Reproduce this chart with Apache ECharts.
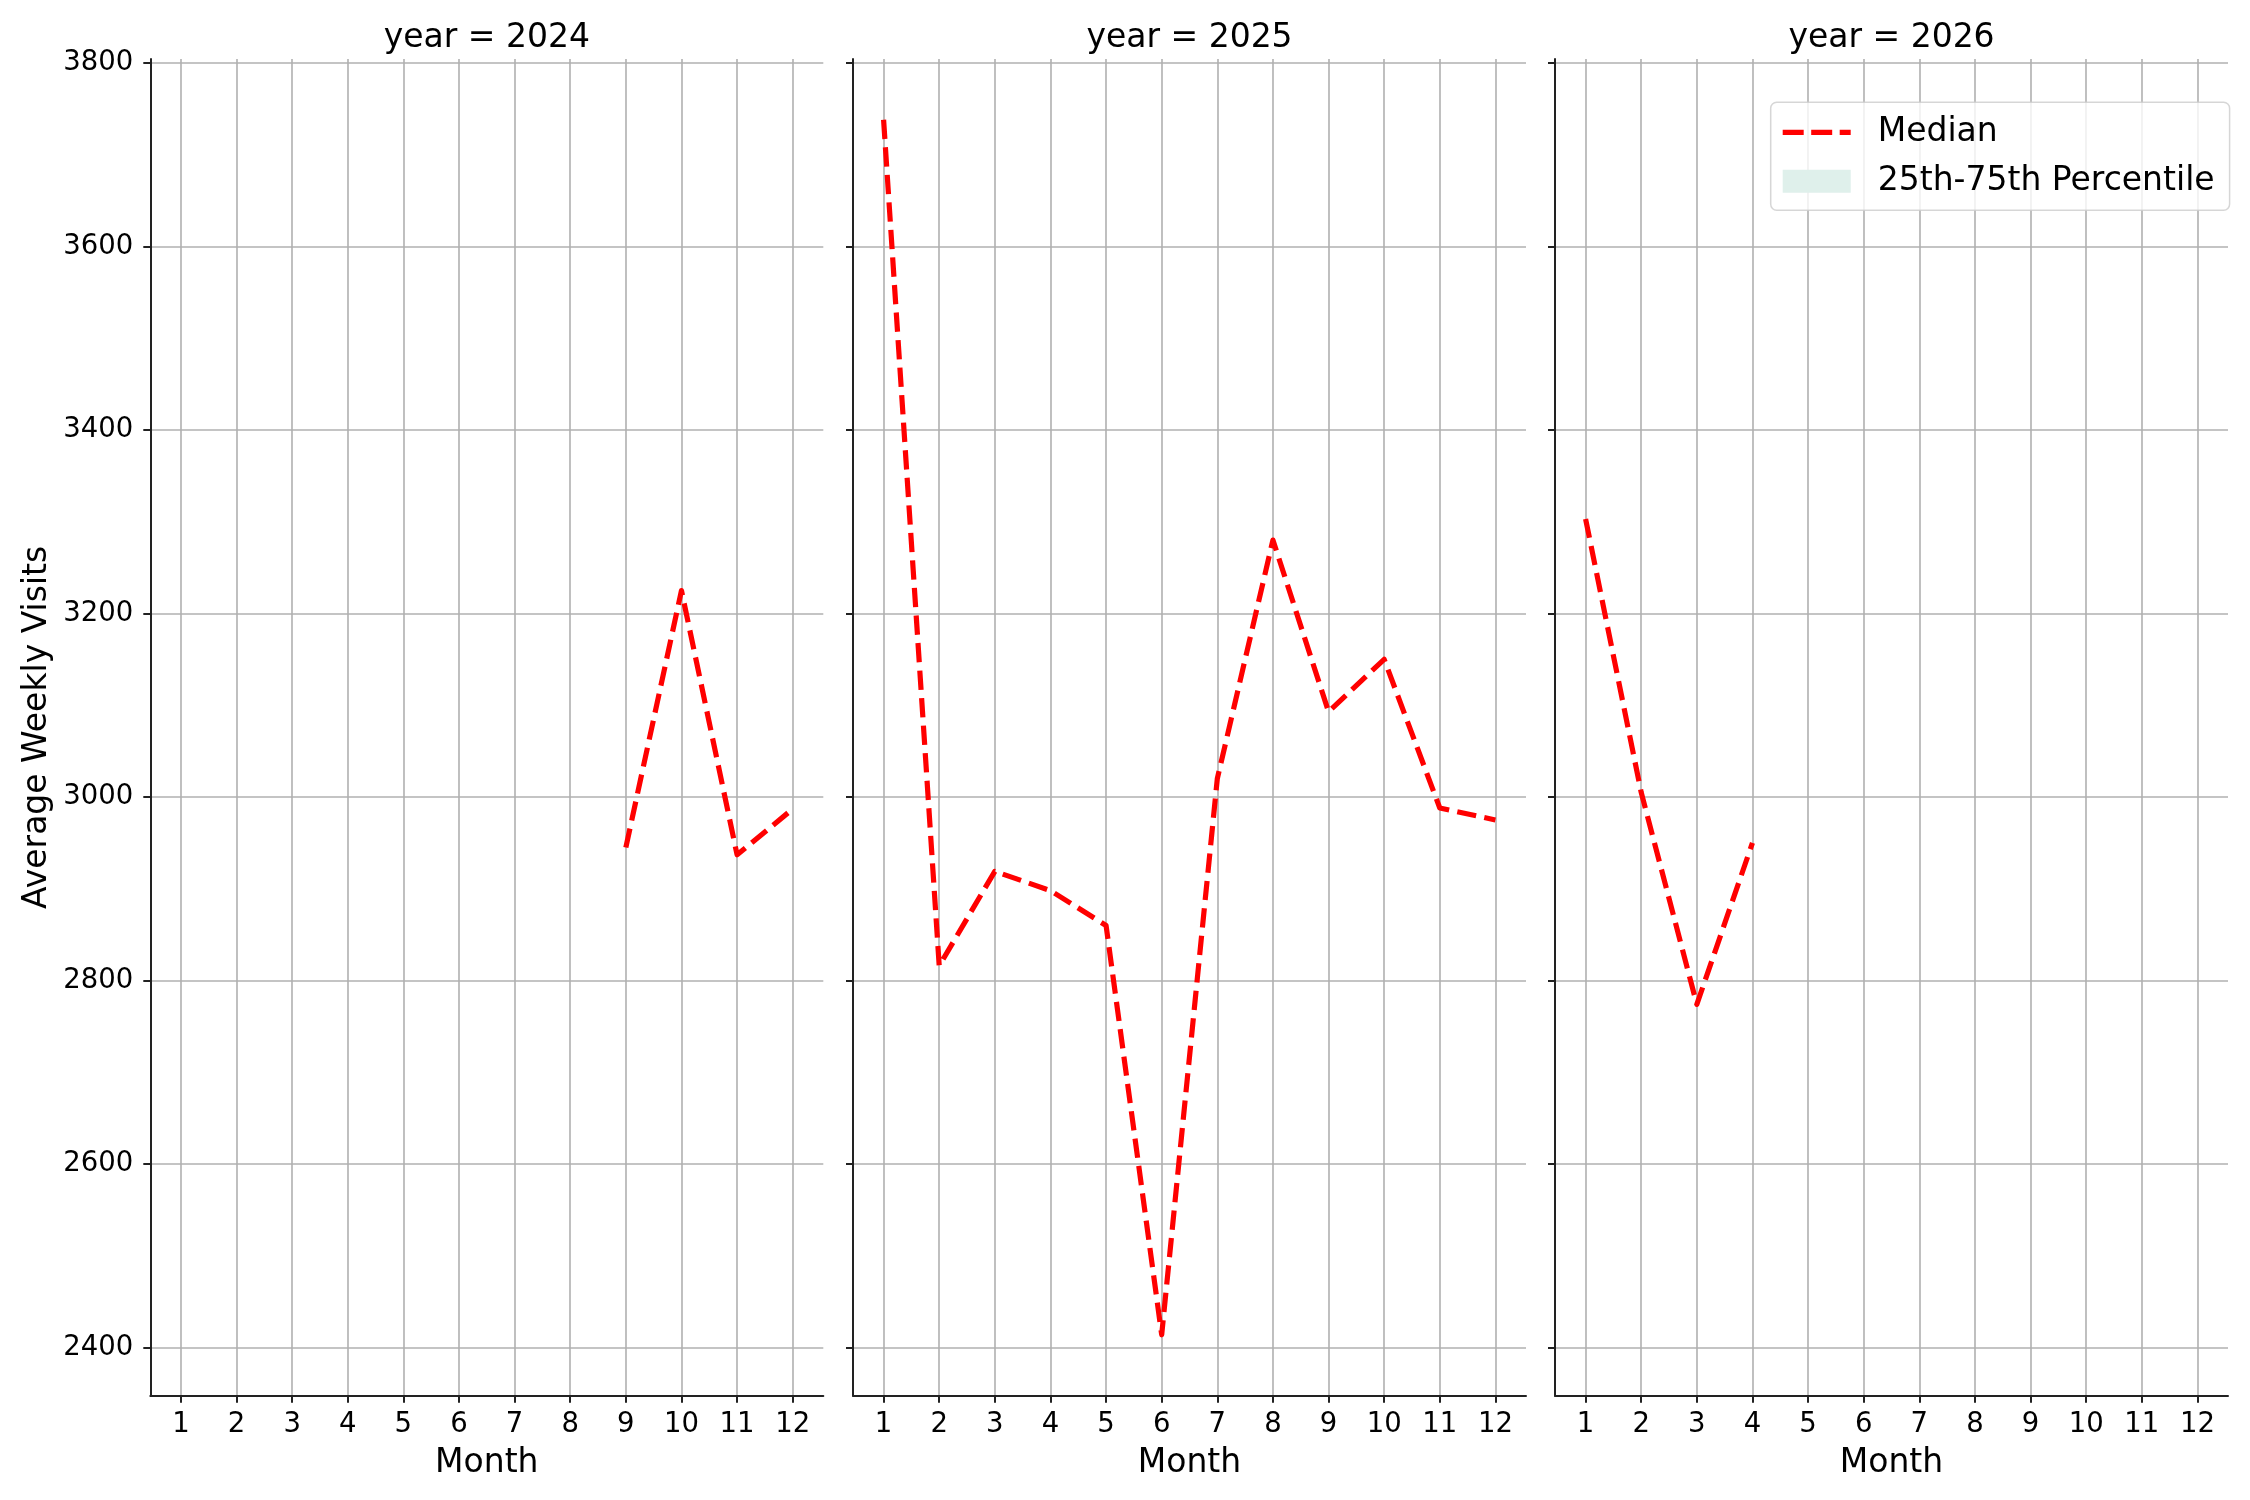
<!DOCTYPE html>
<html>
<head>
<meta charset="utf-8">
<script src="https://cdn.jsdelivr.net/npm/echarts@6/dist/echarts.min.js"></script>
<style>
html,body{margin:0;padding:0;background:#ffffff;}
#chart{width:2250px;height:1500px;}
</style>
</head>
<body>
<div id="chart"></div>
<script>
// ---- data ----
const months = [1, 2, 3, 4, 5, 6, 7, 8, 9, 10, 11, 12];
const years = ['2024', '2025', '2026'];
const median2024 = [null, null, null, null, null, null, null, null, 2945, 3225, 2937, 2987];
const median2025 = [3738, 2816, 2919, 2898, 2860, 2414, 3020, 3280, 3093, 3150, 2988, 2975];
const median2026 = [3303, 3005, 2774, 2950, null, null, null, null, null, null, null, null];
const yTicks = [2400, 2600, 2800, 3000, 3200, 3400, 3600, 3800];
const xTicks = [1, 2, 3, 4, 5, 6, 7, 8, 9, 10, 11, 12];
const seriesNames = ['Median', '25th-75th Percentile'];

// ---- layout / style ----
const FONT = 'DejaVu Sans';
const medians = [median2024, median2025, median2026];
const gridLefts = [150.3, 853, 1555];
const gridWidth = 673;
const gridTop = 59;
const gridHeight = 1336.7;
const xMin = 0.45, xMax = 12.55;
const yMin = 2347.6, yMax = 3804.2;
const axisColor = '#222222';
const gridColor = '#b0b0b0';

const chart = echarts.init(document.getElementById('chart'), null, {renderer: 'canvas'});

const grids = gridLefts.map(l => ({left: l, top: gridTop, width: gridWidth, height: gridHeight, containLabel: false}));

const xAxes = gridLefts.map((l, i) => ({
  type: 'value', gridIndex: i, min: xMin, max: xMax,
  axisLine: {show: true, onZero: false, lineStyle: {color: axisColor, width: 2}},
  axisTick: {show: true, inside: false, length: 7, customValues: xTicks, lineStyle: {color: axisColor, width: 2}},
  axisLabel: {show: true, customValues: xTicks, formatter: v => String(v), fontSize: 27.5, color: '#000', margin: 15.5, fontFamily: FONT},
  splitLine: {show: true, lineStyle: {color: gridColor, width: 1.6}},
  name: 'Month', nameLocation: 'middle', nameGap: 51,
  nameTextStyle: {fontSize: 33, color: '#000', fontFamily: FONT}
}));

const yAxes = gridLefts.map((l, i) => ({
  type: 'value', gridIndex: i, min: yMin, max: yMax,
  axisLine: {show: true, onZero: false, lineStyle: {color: axisColor, width: 2}},
  axisTick: {show: true, inside: false, length: 7, customValues: yTicks, lineStyle: {color: axisColor, width: 2}},
  axisLabel: {show: i === 0, customValues: yTicks, formatter: v => String(v), fontSize: 27.5, color: '#000', margin: 17, fontFamily: FONT},
  splitLine: {show: true, lineStyle: {color: gridColor, width: 1.6}},
  name: i === 0 ? 'Average Weekly Visits' : '', nameLocation: 'middle', nameGap: 96,
  nameTextStyle: {fontSize: 33, color: '#000', fontFamily: FONT}
}));

const series = medians.map((arr, i) => ({
  type: 'line', name: seriesNames[0], xAxisIndex: i, yAxisIndex: i,
  data: months.map((m, k) => [m, arr[k]]).filter(d => d[1] !== null),
  showSymbol: false, symbol: 'none', silent: true, animation: false, z: 3,
  itemStyle: {color: '#ff0000'},
  lineStyle: {color: '#ff0000', width: 5.2, type: [19.3, 8.3], cap: 'butt', join: 'round'}
}));
series.push({
  type: 'line', name: seriesNames[1], xAxisIndex: 0, yAxisIndex: 0,
  data: [], showSymbol: false, symbol: 'none', silent: true, animation: false,
  itemStyle: {color: '#dff0eb'}, lineStyle: {color: '#dff0eb', width: 0},
  areaStyle: {color: '#dff0eb'}
});

const medianIcon = 'path://M0,0h0.01v0.01h-0.01z M90,22.99h0.01v0.01h-0.01z M0,8.9h21v5.2h-21z M28.5,8.9h21v5.2h-21z M57,8.9h11v5.2h-11z';
const pctIcon = 'path://M0,0h68v23h-68z M89.99,22.99h0.01v0.01h-0.01z';

const titles = gridLefts.map((l, i) => ({
  text: 'year = ' + years[i],
  left: l + gridWidth / 2, top: 21.5, textAlign: 'center', padding: 0,
  textStyle: {fontSize: 33, fontWeight: 'normal', color: '#000', fontFamily: FONT}
}));

chart.setOption({
  animation: false,
  backgroundColor: '#ffffff',
  textStyle: {fontFamily: FONT},
  title: titles,
  grid: grids,
  xAxis: xAxes,
  yAxis: yAxes,
  legend: {
    data: [{name: seriesNames[0], icon: medianIcon}, {name: seriesNames[1], icon: pctIcon}],
    orient: 'vertical', left: 1770.7, top: 102.3,
    itemWidth: 90, itemHeight: 23, itemGap: 16,
    padding: [13.5, 15, 12.5, 12],
    backgroundColor: 'rgba(255,255,255,0.8)',
    borderColor: 'rgba(204,204,204,0.8)', borderWidth: 1.5, borderRadius: 6,
    itemStyle: {borderWidth: 0},
    textStyle: {fontSize: 33, color: '#000', fontFamily: FONT},
    selectedMode: false, z: 10
  },
  series: series
});
</script>
</body>
</html>
